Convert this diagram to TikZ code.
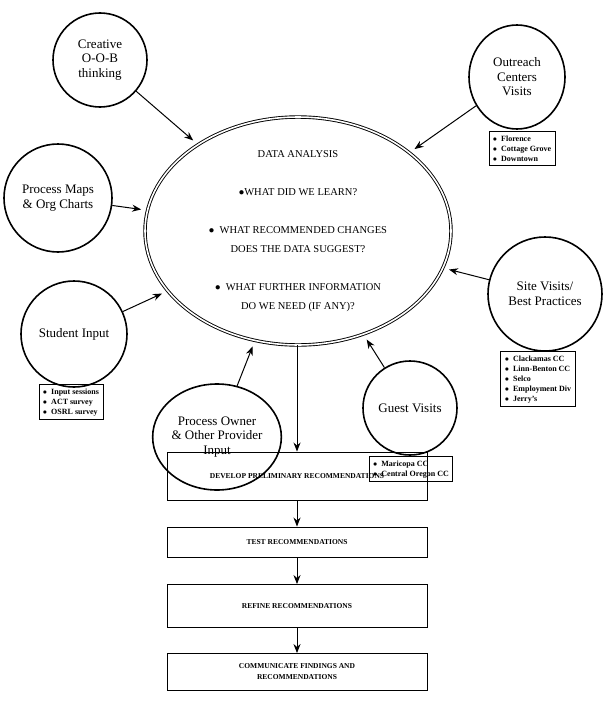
\documentclass[tikz,border=0pt]{standalone}
\usepackage{fontspec}
\setmainfont{Liberation Serif}
\usetikzlibrary{positioning}
\usetikzlibrary{shapes.geometric}
\usetikzlibrary{arrows.meta}

\tikzset{
  src/.style={draw,line width=1.6pt,circle,inner sep=0pt,align=center,font=\fontsize{13}{14.5}\selectfont},
  list/.style={draw,line width=0.9pt,align=left,inner sep=4pt,font=\fontsize{8}{10}\selectfont\bfseries},
  stage/.style={draw,line width=0.9pt,minimum width=260pt,inner sep=2pt,align=center,font=\fontsize{7.5}{11}\selectfont\bfseries},
  feed/.style={-{Stealth[length=9pt,width=7pt]},line width=1pt,shorten >=6pt}
}

\begin{document}
\begin{tikzpicture}[x=1pt,y=-1pt]
\useasboundingbox (0,0) rectangle (605,701);

% centre
\node[ellipse,draw,double,double distance=1.6pt,line width=0.9pt,minimum width=306pt,minimum height=226pt,inner sep=0pt,align=center,font=\fontsize{10.5}{19}\selectfont] (ana) at (298,231)
{DATA ANALYSIS\\[19pt]
$\bullet$WHAT DID WE LEARN?\\[19pt]
$\bullet$\ \ WHAT RECOMMENDED CHANGES\\
DOES THE DATA SUGGEST?\\[19pt]
$\bullet$\ \ WHAT FURTHER INFORMATION\\
DO WE NEED (IF ANY)?};

% sources
\node[src,minimum size=94pt] (cre) at (100,60) {Creative\\O-O-B\\thinking};
\node[src,minimum size=96pt,ellipse,minimum height=104pt] (out) at (517,77) {Outreach\\Centers\\Visits};
\node[src,minimum size=108pt] (map) at (58,198) {Process Maps\\\& Org Charts};
\node[src,minimum size=106pt] (stu) at (74,334) {Student Input};
\node[src,ellipse,minimum width=128pt,minimum height=106pt] (own) at (217,437) {Process Owner\\\& Other Provider\\Input};
\node[src,minimum size=94pt] (gue) at (410,408) {Guest Visits};
\node[src,minimum size=114pt] (sit) at (545,294) {Site Visits/\\Best Practices};

% lists
\node[list,anchor=north] (outl) at (522,131) {$\bullet$\ \ Florence\\$\bullet$\ \ Cottage Grove\\$\bullet$\ \ Downtown};
\node[list,anchor=north] (stul) at (71,384) {$\bullet$\ \ Input sessions\\$\bullet$\ \ ACT survey\\$\bullet$\ \ OSRL survey};
\node[list,anchor=north] (guel) at (411,456) {$\bullet$\ \ Maricopa CC\\$\bullet$\ \ Central Oregon CC};
\node[list,anchor=north] (sitl) at (538,351) {$\bullet$\ \ Clackamas CC\\$\bullet$\ \ Linn-Benton CC\\$\bullet$\ \ Selco\\$\bullet$\ \ Employment Div\\$\bullet$\ \ Jerry's};

% stages
\node[stage,minimum height=48pt] (dev) at (297,476) {DEVELOP PRELIMINARY RECOMMENDATIONS};
\node[stage,minimum height=30pt] (tst) at (297,542) {TEST RECOMMENDATIONS};
\node[stage,minimum height=43pt] (ref) at (297,606) {REFINE RECOMMENDATIONS};
\node[stage,minimum height=37pt] (com) at (297,672) {COMMUNICATE FINDINGS AND\\RECOMMENDATIONS};

% arrows in
\foreach \s in {cre,out,map,stu,own,gue,sit}
  \draw[feed] (\s) -- (ana);

\draw[feed,shorten >=0pt] (ana.south -| dev.north) -- (dev.north);
\draw[feed,shorten >=0pt] (dev) -- (tst);
\draw[feed,shorten >=0pt] (tst) -- (ref);
\draw[feed,shorten >=0pt] (ref) -- (com);
\end{tikzpicture}
\end{document}
